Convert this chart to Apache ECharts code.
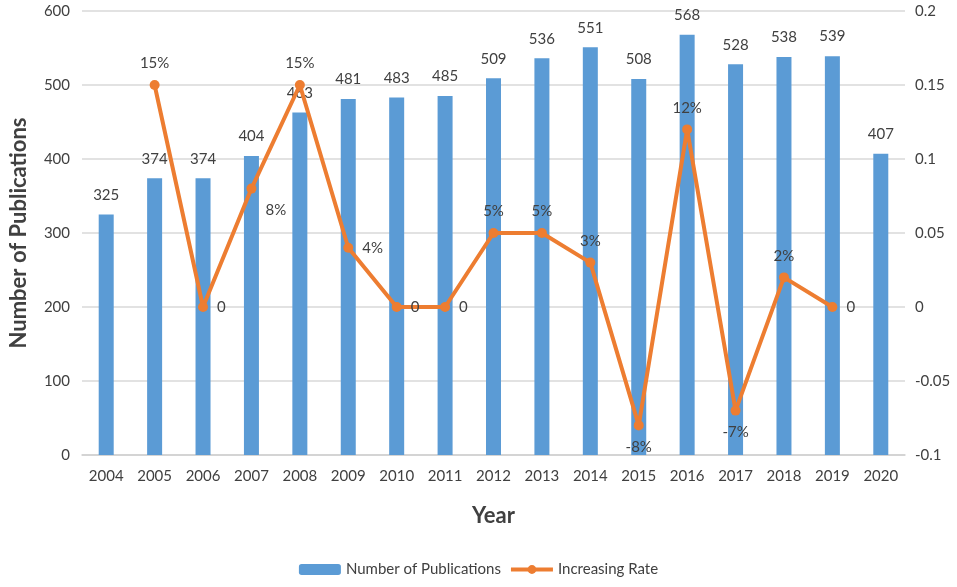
<!DOCTYPE html>
<html lang="en">
<head>
    <meta charset="UTF-8">
    <title>Publications</title>
    <script src="https://cdn.jsdelivr.net/npm/echarts@6/dist/echarts.min.js"></script>
    <style>html,body{margin:0;padding:0;background:#fff;}</style>
</head>
<body>
    <div id="box" style="width: 957px; height: 587px;"></div>
</body>
<script>
    var years = ['2004','2005','2006','2007','2008','2009','2010','2011','2012','2013','2014','2015','2016','2017','2018','2019','2020']
    var pubs = [325, 374, 374, 404, 463, 481, 483, 485, 509, 536, 551, 508, 568, 528, 538, 539, 407]
    var rate = [null, 0.15, 0, 0.08, 0.15, 0.04, 0, 0, 0.05, 0.05, 0.03, -0.08, 0.12, -0.07, 0.02, 0, null]
    var rateText = ['', '15%', '0', '8%', '15%', '4%', '0', '0', '5%', '5%', '3%', '-8%', '12%', '-7%', '2%', '0', '']
    var ratePos = ['', 'top', 'right', 'right', 'top', 'right', 'right', 'right', 'top', 'top', 'top', 'bottom', 'top', 'bottom', 'top', 'right', '']

    var font = 'Lato, "Open Sans", sans-serif'
    var txt = '#404040'

    var lineData = []
    for (var i = 0; i < years.length; i++) {
        var item = { value: rate[i], label: { formatter: rateText[i], position: ratePos[i] } }
        if (i == 3) item.label.offset = [0, 22]
        lineData.push(item)
    }

    var mEcharts = echarts.init(document.querySelector('#box'))
    var option = {
        textStyle: { fontFamily: font },
        grid: { left: 78, right: 52, top: 11, bottom: 132 },
        legend: {
            bottom: 5,
            left: 'center',
            itemWidth: 42,
            itemHeight: 11,
            itemGap: 8,
            textStyle: { color: txt, fontSize: 15, fontFamily: font },
            data: ['Number of Publications', {
                name: 'Increasing Rate',
                lineStyle: { width: 4 }
            }]
        },
        xAxis: {
            type: 'category',
            data: years,
            name: 'Year',
            nameLocation: 'middle',
            nameGap: 50,
            nameTextStyle: { color: txt, fontSize: 22, fontWeight: 'bold', fontFamily: font },
            axisTick: { show: false },
            axisLine: { lineStyle: { color: '#d0d0d0', width: 1.5 } },
            axisLabel: { color: txt, fontSize: 15, margin: 14 }
        },
        yAxis: [{
            type: 'value',
            min: 0, max: 600, interval: 100,
            name: 'Number of Publications',
            nameLocation: 'middle',
            nameGap: 52,
            nameTextStyle: { color: txt, fontSize: 22, fontWeight: 'bold', fontFamily: font },
            axisLabel: { color: txt, fontSize: 15, margin: 12 },
            splitLine: { lineStyle: { color: '#d9d9d9', width: 1.5 } }
        }, {
            type: 'value',
            min: -0.1, max: 0.2, interval: 0.05,
            axisLabel: {
                color: txt, fontSize: 15, margin: 10,
                formatter: function (v) { return String(Math.round(v * 100) / 100) }
            },
            splitLine: { show: false }
        }],
        series: [{
            name: 'Number of Publications',
            type: 'bar',
            data: pubs,
            barWidth: 15,
            itemStyle: { color: '#5b9bd5' },
            label: { show: true, position: 'top', distance: 12, color: txt, fontSize: 15, fontFamily: font }
        }, {
            name: 'Increasing Rate',
            type: 'line',
            yAxisIndex: 1,
            data: lineData,
            symbol: 'circle',
            symbolSize: 10,
            lineStyle: { color: '#ed7d31', width: 4 },
            itemStyle: { color: '#ed7d31' },
            label: { show: true, color: txt, fontSize: 15, fontFamily: font, distance: 9 },
            z: 5
        }]
    }
    mEcharts.setOption(option)
</script>
</html>
